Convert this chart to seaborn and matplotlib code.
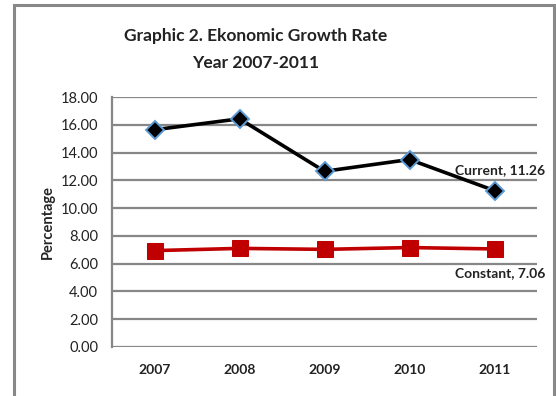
import matplotlib
matplotlib.use("Agg")
import matplotlib.pyplot as plt
import seaborn as sns
import pandas as pd
from matplotlib.patches import Rectangle

years = ["2007", "2008", "2009", "2010", "2011"]
current = [15.64, 16.43, 12.65, 13.50, 11.26]
constant = [6.94, 7.10, 7.03, 7.16, 7.06]
yticks = [0, 2, 4, 6, 8, 10, 12, 14, 16, 18]
title_lines = ["Graphic 2. Ekonomic Growth Rate", "Year 2007-2011"]

df = pd.DataFrame({
    "Year": years * 2,
    "Value": current + constant,
    "Series": ["Current"] * len(years) + ["Constant"] * len(years),
})

sns.set_theme(style="white")
plt.rcParams["font.family"] = ["Lato", "DejaVu Sans"]

W, H = 556, 396
fig = plt.figure(figsize=(W / 100, H / 100), dpi=100)
ax = fig.add_axes([112 / W, 1 - 347 / H, (537 - 112) / W, (347 - 97) / H])

grid_c = "#878787"
for v in yticks:
    ax.axhline(v, color=grid_c, lw=1.6, zorder=0)

sns.lineplot(data=df[df.Series == "Current"], x="Year", y="Value", ax=ax,
             color="black", lw=2.6, marker="D", markersize=9,
             markerfacecolor="black", markeredgecolor="#5B9BD5",
             markeredgewidth=1.4, zorder=3)
sns.lineplot(data=df[df.Series == "Constant"], x="Year", y="Value", ax=ax,
             color="#C00000", lw=2.6, marker="s", markersize=11,
             markerfacecolor="#C00000", markeredgecolor="#C00000", zorder=3)

ax.set_xlim(-0.5, 4.5)
ax.set_ylim(0, 18)
ax.set_yticks(yticks)
ax.set_yticklabels([f"{v:.2f}" for v in yticks], fontsize=10.5, color="#222222")
ax.set_xticks(range(len(years)))
ax.set_xticklabels(years, fontsize=10, fontweight="bold", color="#222222")
ax.tick_params(axis="x", length=0, pad=12)
ax.tick_params(axis="y", length=0, pad=10)
ax.set_xlabel("")
ax.set_ylabel("Percentage", fontsize=10.5, fontweight="bold", labelpad=4)
for s in ["top", "right", "bottom"]:
    ax.spines[s].set_visible(False)
ax.spines["left"].set_color(grid_c)
ax.spines["left"].set_linewidth(1.6)

ax.annotate(f"Current, {current[-1]:.2f}", xy=(4, current[-1]), xytext=(500 / W, 1 - 170 / H),
            textcoords="figure fraction", ha="center", va="center",
            fontsize=10, fontweight="bold", color="#222222")
ax.annotate(f"Constant, {constant[-1]:.2f}", xy=(4, constant[-1]), xytext=(500 / W, 1 - 273 / H),
            textcoords="figure fraction", ha="center", va="center",
            fontsize=10, fontweight="bold", color="#222222")

fig.text(256 / W, 1 - 36 / H, title_lines[0], ha="center", va="center", fontsize=12.5,
         fontweight="bold", color="#222222")
fig.text(256 / W, 1 - 63 / H, title_lines[1], ha="center", va="center", fontsize=12.5,
         fontweight="bold", color="#222222")

fig.patches.append(Rectangle((14 / W, -0.05), (554 - 14) / W, 1.05 - 5 / H,
                             transform=fig.transFigure, fill=False,
                             edgecolor="#888888", lw=2.2))

fig.savefig("out.png", dpi=100)
